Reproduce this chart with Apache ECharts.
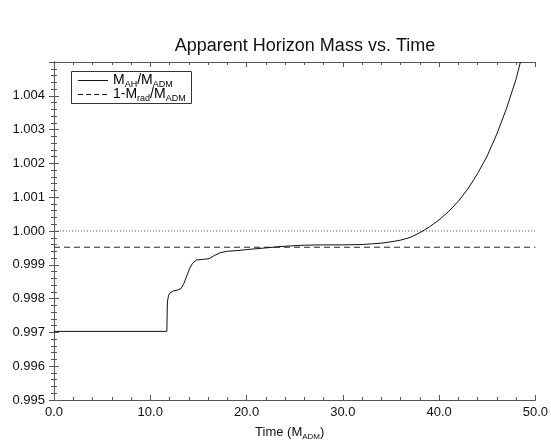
<!DOCTYPE html>
<html>
<head>
<meta charset="utf-8">
<script src="https://cdn.jsdelivr.net/npm/echarts@6/dist/echarts.min.js"></script>
<style>html,body{margin:0;padding:0;background:#fff}#c{width:551px;height:446px}</style>
</head>
<body>
<div id="c"></div>
<script>
var titleText = 'Apparent Horizon Mass vs. Time';
var mahTime = [0, 11.72, 11.78, 11.9, 12.1, 12.4, 12.8, 13.2, 13.5, 13.8, 14.1, 14.4, 14.8, 15.4, 16.1, 16.7, 17.3, 18.0, 19.0, 20, 22, 24, 26, 28, 30, 32, 33, 34, 35, 36, 37, 38, 39, 40, 41, 42, 43, 44, 45, 46, 47, 48, 48.45];
var mahValue = [0.99703, 0.99703, 0.99790, 0.99810, 0.99818, 0.99823, 0.99825, 0.99830, 0.99845, 0.99868, 0.99890, 0.99905, 0.99914, 0.99916, 0.99918, 0.99928, 0.99936, 0.99940, 0.99942, 0.99945, 0.99950, 0.99955, 0.99958, 0.99959, 0.99959, 0.99960, 0.99962, 0.99964, 0.99968, 0.99973, 0.99981, 0.99995, 1.00012, 1.00033, 1.00058, 1.00088, 1.00125, 1.00170, 1.00222, 1.00287, 1.00362, 1.00450, 1.00500];
var radLevel = 0.99952;
var unityLevel = 1.000;
var xTicks = [0, 10, 20, 30, 40, 50];
var yRange = [0.995, 1.005];

var chart = echarts.init(document.getElementById('c'));
var axisCol = '#555';
var sub = {
  n: {fontFamily: 'Liberation Sans', fontSize: 13, color: '#111'},
  s: {fontFamily: 'Liberation Sans', fontSize: 8, color: '#111', padding: [9, 0, 0, 0]}
};
var subL = {
  n: {fontFamily: 'Liberation Sans', fontSize: 14, color: '#111'},
  s: {fontFamily: 'Liberation Sans', fontSize: 9, color: '#111', padding: [9, 0, 0, 0]}
};
function xAx(pos, labels) {
  return {
    type: 'value', position: pos, min: xTicks[0], max: xTicks[xTicks.length - 1], interval: 10,
    axisLine: {show: true, lineStyle: {color: axisCol, width: 1}},
    axisTick: {show: true, inside: true, length: 5, lineStyle: {color: axisCol}},
    minorTick: {show: true, splitNumber: 5, length: 3, lineStyle: {color: axisCol}},
    splitLine: {show: false},
    axisLabel: {show: labels, color: '#111', fontFamily: 'Liberation Sans', fontSize: 13, margin: 6,
      formatter: function (v) { return v.toFixed(1); }},
    name: labels ? '{n|Time (M}{s|ADM}{n|)}' : '',
    nameLocation: 'middle', nameGap: 24,
    nameTextStyle: {rich: sub, padding: [0, 10, 0, 0]}
  };
}
function yAx(pos, labels) {
  return {
    type: 'value', position: pos, min: yRange[0], max: yRange[1], interval: 0.001,
    axisLine: {show: true, lineStyle: {color: axisCol, width: 1}},
    axisTick: {show: true, inside: true, length: 5, lineStyle: {color: axisCol}},
    minorTick: {show: true, splitNumber: 5, length: 3, lineStyle: {color: axisCol}},
    splitLine: {show: false},
    axisLabel: {show: labels, color: '#111', fontFamily: 'Liberation Sans', fontSize: 13, margin: 9,
      formatter: function (v) { return Math.abs(v - yRange[1]) < 1e-9 ? '' : v.toFixed(3); }}
  };
}
chart.setOption({
  animation: false,
  title: {text: titleText, left: 300, top: 32, textAlign: 'center',
    textStyle: {fontFamily: 'Liberation Sans', fontSize: 18, fontWeight: 'normal', color: '#111'}},
  grid: {left: 54, right: 13, top: 62, bottom: 36},
  xAxis: [xAx('bottom', true), xAx('top', false)],
  yAxis: [yAx('left', true), yAx('right', false)],
  series: [
    {type: 'line', name: 'unity', showSymbol: false, symbol: 'none',
      data: [[xTicks[0], unityLevel], [xTicks[xTicks.length - 1], unityLevel]],
      lineStyle: {color: '#555', width: 1, type: [1, 2]}},
    {type: 'line', name: 'rad', showSymbol: false, symbol: 'none',
      data: [[xTicks[0], radLevel], [xTicks[xTicks.length - 1], radLevel]],
      lineStyle: {color: '#222', width: 1, type: [6, 4]}},
    {type: 'line', name: 'mah', showSymbol: false, symbol: 'none', clip: true,
      data: mahTime.map(function (t, i) { return [t, mahValue[i]]; }),
      lineStyle: {color: '#111', width: 1}}
  ],
  graphic: [
    {type: 'rect', shape: {x: 71.5, y: 71.5, width: 120, height: 32}, style: {fill: '#fff', stroke: '#333', lineWidth: 1}},
    {type: 'line', shape: {x1: 78, y1: 80.5, x2: 108, y2: 80.5}, style: {stroke: '#111', lineWidth: 1}},
    {type: 'line', shape: {x1: 78, y1: 94.5, x2: 108, y2: 94.5}, style: {stroke: '#111', lineWidth: 1, lineDash: [5, 3]}},
    {type: 'text', left: 113, top: 73, style: {text: '{n|M}{s|AH}{n|/M}{s|ADM}', rich: subL}},
    {type: 'text', left: 113, top: 87, style: {text: '{n|1-M}{s|rad}{n|/M}{s|ADM}', rich: subL}}
  ]
});
</script>
</body>
</html>
